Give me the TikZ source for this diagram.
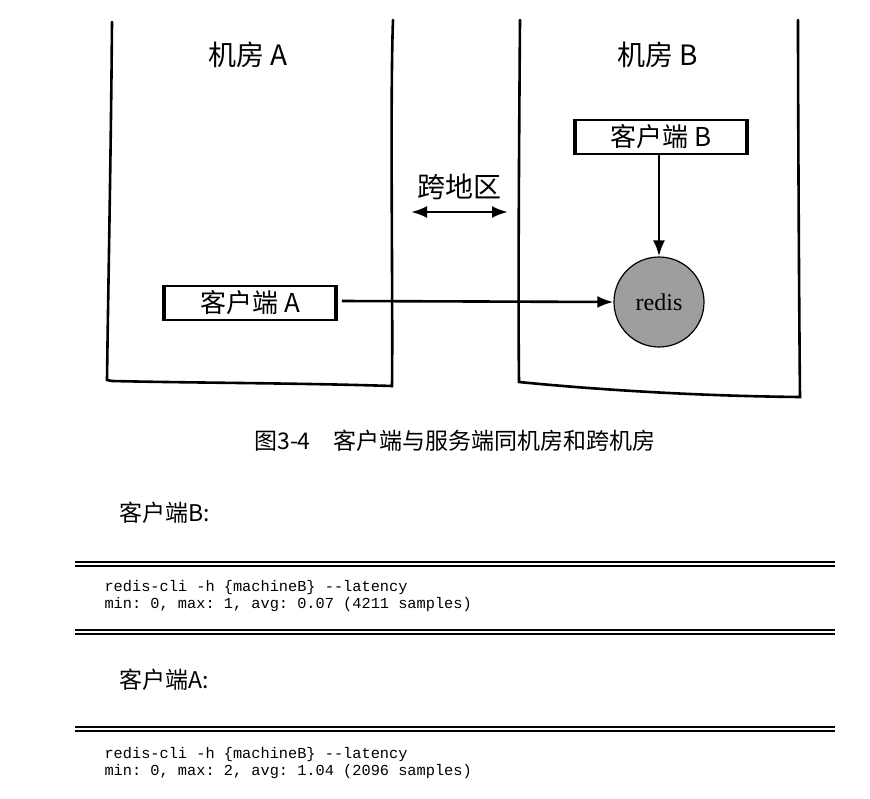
\documentclass[tikz,border=0pt]{standalone}
\usepackage{fontspec}
\setmainfont{Liberation Serif}
\setmonofont{Liberation Mono}
\newfontfamily\cjk{Noto Sans CJK SC}
\usetikzlibrary{arrows.meta}
\begin{document}
\begin{tikzpicture}[x=1pt,y=-1pt,
  room/.style={line width=2.6pt,line cap=round},
  clbox/.style={draw,line width=1.6pt,minimum height=34pt,minimum width=170pt,inner xsep=10pt,font=\cjk\fontsize{26}{26}\selectfont},
  arr/.style={-{Latex[length=16pt,width=12pt]},line width=2.6pt},
  hd/.style={font=\cjk\fontsize{28}{28}\selectfont},
  code/.style={font=\ttfamily\fontsize{15.3}{17}\selectfont,anchor=west,align=left},
  rule/.style={line width=1.4pt}]
\useasboundingbox (0,0) rectangle (870,798);
% rooms
\draw[room] (112,22) .. controls (111,150) and (108,300) .. (107,380) -- (112,381) .. controls (200,383) and (300,383) .. (392,386) .. controls (393,300) and (390,100) .. (393,20);
\draw[room] (520,20) .. controls (519,150) and (518,300) .. (519,382) .. controls (600,390) and (700,396) .. (800,397) .. controls (799,300) and (798,100) .. (798,20);
\node[hd] (ta) at (248,55) {机房 A};
\node[hd] (tb) at (658,55) {机房 B};
% clients
\node[clbox] (cb) at (661,137) {客户端 B};
\node[clbox] (ca) at (250,303) {客户端 A};
\draw[line width=3.5pt] (cb.north west) -- (cb.south west) (cb.north east) -- (cb.south east);
\draw[line width=3.5pt] (ca.north west) -- (ca.south west) (ca.north east) -- (ca.south east);
\node[circle,draw,line width=1.2pt,fill=black!38,minimum size=90pt,inner sep=0pt,font=\fontsize{24}{24}\selectfont] (r) at (659,302) {redis};
\draw[arr] (cb.south -| r) -- (r.north);
\draw[arr] (ca.east) ++(6,-2) coordinate (cae) (cae) -- (r.west);
% cross region
\node[hd] (kd) at (459,187) {跨地区};
\coordinate (kl) at (411,212);
\coordinate (kr) at (508,212);
\draw[{Latex[length=16pt,width=12pt]}-{Latex[length=16pt,width=12pt]},line width=2.6pt] (kl) -- (kr);
% caption
\node[font=\cjk\fontsize{23}{23}\selectfont] (cap) at (455,441) {图3-4\quad 客户端与服务端同机房和跨机房};
\node[font=\cjk\fontsize{23}{23}\selectfont,anchor=west] (lb) at (116,513) {客户端B:};
\draw[rule] (75,562) -- (835,562); \draw[rule] (75,566) -- (835,566);
\node[code] (c1) at (101,596) {redis-cli -h \{machineB\} --latency\\min: 0, max: 1, avg: 0.07 (4211 samples)};
\draw[rule] (75,630) -- (835,630); \draw[rule] (75,634) -- (835,634);
\node[font=\cjk\fontsize{23}{23}\selectfont,anchor=west] (la) at (116,680) {客户端A:};
\draw[rule] (75,727) -- (835,727); \draw[rule] (75,731) -- (835,731);
\node[code] (c2) at (101,763) {redis-cli -h \{machineB\} --latency\\min: 0, max: 2, avg: 1.04 (2096 samples)};
\end{tikzpicture}
\end{document}
